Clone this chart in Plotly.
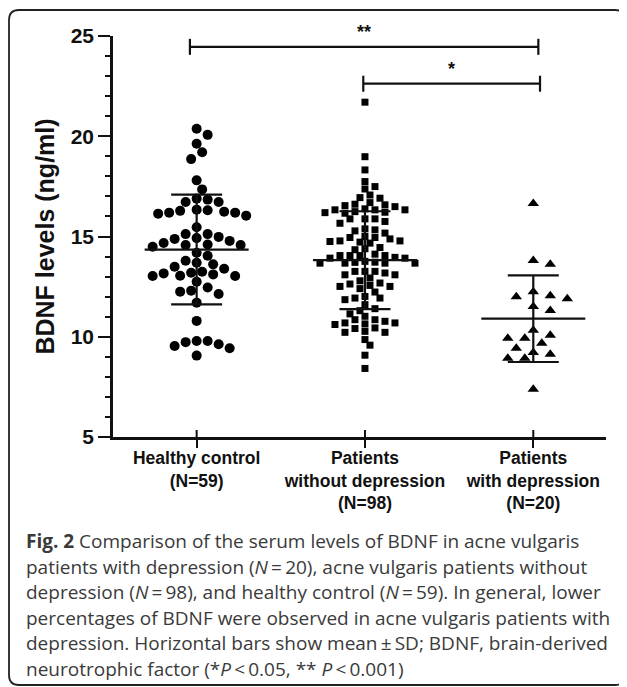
import plotly.graph_objects as go

# ---------------- data ----------------
categories = ["Healthy control<br>(N=59)",
              "Patients<br>without depression<br>(N=98)",
              "Patients<br>with depression<br>(N=20)"]

healthy_control = [20.37, 20.07, 19.63, 19.20, 18.86, 17.80, 17.35, 16.84, 16.72, 16.72,
                   16.89, 16.19, 16.31, 16.04, 16.19, 16.34, 16.14, 16.28, 16.24, 15.46,
                   14.98, 14.68, 14.57, 15.12, 14.78, 14.60, 15.12, 14.49, 14.88, 14.92,
                   14.57, 14.04, 13.79, 14.19, 13.69, 13.61, 13.49, 13.39, 13.19, 13.11,
                   13.03, 13.03, 13.24, 13.04, 13.16, 12.74, 12.46, 12.30, 12.13, 12.25,
                   11.70, 10.79, 9.63, 9.73, 9.54, 9.79, 9.43, 9.79, 9.06]

without_depression = [21.70, 18.98, 18.32, 17.74, 17.49, 17.37, 17.07, 16.94, 16.91, 16.69,
                      16.58, 16.54, 16.49, 16.61, 16.33, 16.38, 16.33, 16.19, 16.16, 16.24,
                      16.33, 16.21, 15.88, 15.75, 15.66, 15.88, 15.88, 15.33, 15.38, 15.28,
                      15.17, 14.95, 15.00, 14.78, 14.78, 14.88, 14.75, 14.95, 14.72, 14.67,
                      14.45, 14.39, 14.34, 14.12, 13.96, 14.05, 13.92, 14.05, 13.92, 14.05,
                      14.05, 13.67, 13.67, 13.67, 13.71, 13.76, 13.72, 13.67, 13.18, 13.09,
                      13.26, 13.26, 13.09, 13.26, 12.68, 12.79, 12.63, 12.93, 12.51, 12.51,
                      12.56, 12.23, 12.01, 11.85, 11.93, 11.93, 11.60, 11.30, 11.40, 11.14,
                      11.02, 10.85, 10.85, 10.77, 10.69, 10.61, 10.69, 10.64, 10.22, 10.22,
                      10.44, 10.41, 10.27, 9.86, 9.58, 9.08, 8.42, 12.40]

with_depression = [16.64, 13.61, 13.80, 12.25, 11.89, 12.05, 12.00, 11.51, 11.31, 10.33,
                   10.08, 9.92, 9.92, 9.67, 9.43, 9.21, 9.13, 8.93, 8.93, 7.38]

group_means = [14.35, 13.82, 10.90]
group_sds = [2.74, 2.44, 2.16]

y_tick_values = [5, 10, 15, 20, 25]

brackets = [  # (left end, right end, level, label)
    (-0.04, 2.03, 24.46, "**"),
    (0.99, 2.04, 22.62, "*"),
]

caption_lines = [
    "<b>Fig. 2</b> Comparison of the serum levels of BDNF in acne vulgaris",
    "patients with depression (<i>N</i>\u2009=\u200920), acne vulgaris patients without",
    "depression (<i>N</i>\u2009=\u200998), and healthy control (<i>N</i>\u2009=\u200959). In general, lower",
    "percentages of BDNF were observed in acne vulgaris patients with",
    "depression. Horizontal bars show mean\u2009\u00b1\u2009SD; BDNF, brain-derived",
    "neurotrophic factor (*<i>P</i>\u2009&lt;\u20090.05, ** <i>P</i>\u2009&lt;\u20090.001)",
]

# ---------------- layout geometry ----------------
# the page body has an 8 px margin, so the figure is sized to fit the window
OFF = 8
W, H = 627 - OFF, 687 - OFF
PLOT_L, PLOT_R, PLOT_T, PLOT_B = 113, 606, 36, 437   # page pixels
ML, MR, MT, MB = PLOT_L - OFF, (W + OFF) - PLOT_R, PLOT_T - OFF, (H + OFF) - PLOT_B
X_RANGE = [-0.497, 2.432]
Y_RANGE = [5, 25]
plot_w = PLOT_R - PLOT_L
plot_h = PLOT_B - PLOT_T
XPPU = plot_w / (X_RANGE[1] - X_RANGE[0])
YPPU = plot_h / (Y_RANGE[1] - Y_RANGE[0])


def px2paper_x(px):
    return (px - PLOT_L) / plot_w


def px2paper_y(py):
    return (PLOT_B - py) / plot_h


def swarm(values, center, diam, step):
    """Simple beeswarm: each point goes to the smallest horizontal offset
    (multiple of `step` px) that does not collide with points already placed."""
    placed = []
    xs = [0.0] * len(values)
    order = sorted(range(len(values)), key=lambda i: -values[i])
    cands = [0.0]
    for j in range(1, 60):
        cands += [j * step, -j * step]
    for i in order:
        ypx = values[i] * YPPU
        chosen = 0.0
        for c in cands:
            if all((c - px) ** 2 + (ypx - py) ** 2 >= diam ** 2 for px, py in placed):
                chosen = c
                break
        placed.append((chosen, ypx))
        xs[i] = center + chosen / XPPU
    return xs


AX_FONT = "Liberation Sans, Arial, sans-serif"
INK = "#111111"
fig = go.Figure()

groups = [
    (healthy_control, "circle", 10, 10.0, 5.5),
    (without_depression, "square", 7, 7.4, 5.0),
    (with_depression, "triangle-up", 10, 10.0, 8.5),
]
for gi, (vals, sym, size, diam, step) in enumerate(groups):
    fig.add_trace(go.Scatter(
        x=swarm(vals, gi, diam, step), y=vals, mode="markers",
        marker=dict(symbol=sym, size=size, color="black", line=dict(width=0)),
        showlegend=False, hoverinfo="y", cliponaxis=False))

# mean +/- SD lines
MEAN_HALF = 52 / XPPU
CAP_HALF = 25.5 / XPPU
for gi, (m, s) in enumerate(zip(group_means, group_sds)):
    xs = [gi - MEAN_HALF, gi + MEAN_HALF, None,
          gi - CAP_HALF, gi + CAP_HALF, None,
          gi - CAP_HALF, gi + CAP_HALF, None,
          gi, gi]
    ys = [m, m, None, m + s, m + s, None, m - s, m - s, None, m - s, m + s]
    fig.add_trace(go.Scatter(x=xs, y=ys, mode="lines",
                             line=dict(color=INK, width=2.2),
                             showlegend=False, hoverinfo="skip", cliponaxis=False))

# significance brackets
TICK_H = 8 / YPPU
for (xa, xb, lvl, lab) in brackets:
    fig.add_trace(go.Scatter(
        x=[xa, xa, None, xa, xb, None, xb, xb],
        y=[lvl - TICK_H, lvl + TICK_H, None, lvl, lvl, None, lvl - TICK_H, lvl + TICK_H],
        mode="lines", line=dict(color=INK, width=2.2),
        showlegend=False, hoverinfo="skip", cliponaxis=False))
    fig.add_annotation(x=(xa + xb) / 2, y=lvl, yshift=15, text=lab, showarrow=False,
                       xref="x", yref="y", yanchor="middle",
                       font=dict(family=AX_FONT, size=18, color=INK, weight="bold"))

# inner half of x ticks (ticks cross the axis)
for gi in range(len(categories)):
    fig.add_shape(type="line", xref="x", yref="y", x0=gi, x1=gi,
                  y0=Y_RANGE[0], y1=Y_RANGE[0] + 7 / YPPU,
                  line=dict(color=INK, width=2))

# outer rounded frame
x0p, x1p = px2paper_x(9), px2paper_x(625)
y0p, y1p = px2paper_y(685), px2paper_y(10)
rx, ry = 10 / plot_w, 10 / plot_h
path = (f"M {x0p+rx},{y1p} L {x1p-rx},{y1p} Q {x1p},{y1p} {x1p},{y1p-ry} "
        f"L {x1p},{y0p+ry} Q {x1p},{y0p} {x1p-rx},{y0p} L {x0p+rx},{y0p} "
        f"Q {x0p},{y0p} {x0p},{y0p+ry} L {x0p},{y1p-ry} Q {x0p},{y1p} {x0p+rx},{y1p} Z")
fig.add_shape(type="path", xref="paper", yref="paper", path=path,
              line=dict(color="#222222", width=1.8))

# caption
CAP_TOP = 541
CAP_STEP = 25.6
for li, line in enumerate(caption_lines):
    fig.add_annotation(xref="paper", yref="paper", x=px2paper_x(24),
                       y=px2paper_y(CAP_TOP + li * CAP_STEP),
                       xanchor="left", yanchor="middle", showarrow=False, text=line,
                       align="left",
                       font=dict(family="Open Sans, Noto Sans, sans-serif", size=19,
                                 color="#3a3a3a"))

fig.update_layout(
    width=W, height=H,
    margin=dict(l=ML, r=MR, t=MT, b=MB, pad=0),
    plot_bgcolor="white", paper_bgcolor="white",
    xaxis=dict(range=X_RANGE, tickvals=[0, 1, 2], ticktext=categories,
               showline=True, linecolor=INK, linewidth=2.5,
               ticks="outside", ticklen=8, tickwidth=2, tickcolor=INK,
               ticklabelstandoff=-5,
               showgrid=False, zeroline=False,
               tickfont=dict(family=AX_FONT, size=17.5, color=INK, weight="bold")),
    yaxis=dict(range=Y_RANGE, tickvals=y_tick_values,
               showline=True, linecolor=INK, linewidth=2.5,
               ticks="outside", ticklen=12, tickwidth=2, tickcolor=INK,
               minor=dict(dtick=1, tick0=5, ticks="outside", ticklen=5, tickwidth=1.5,
                          tickcolor=INK, showgrid=False),
               showgrid=False, zeroline=False,
               tickfont=dict(family=AX_FONT, size=21, color=INK, weight="bold"),
               title=dict(text="BDNF levels (ng/ml)", standoff=9,
                          font=dict(family=AX_FONT, size=25, color=INK, weight="bold"))),
)

fig.write_html("out.html")
